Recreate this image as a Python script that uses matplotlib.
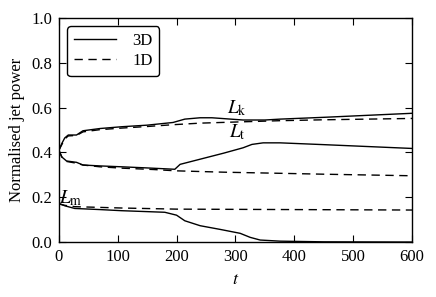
import numpy as np
import matplotlib
matplotlib.use("Agg")
import matplotlib.pyplot as plt

plt.rcParams['font.family'] = ['Liberation Serif', 'DejaVu Serif']
plt.rcParams['mathtext.fontset'] = 'stix'
plt.rcParams['font.size'] = 12

# kinetic power (L_k)
t_k3 = [0, 5, 10, 16, 30, 41, 70, 107, 150, 194, 214, 240, 260, 313, 350, 376, 450, 500, 600]
k3 = [0.41, 0.44, 0.465, 0.478, 0.478, 0.497, 0.507, 0.515, 0.522, 0.534, 0.549, 0.555, 0.555, 0.545, 0.545, 0.549, 0.557, 0.563, 0.575]
t_k1 = [0, 5, 10, 16, 30, 41, 70, 107, 150, 194, 240, 300, 376, 450, 600]
k1 = [0.41, 0.435, 0.46, 0.474, 0.476, 0.492, 0.502, 0.509, 0.516, 0.524, 0.531, 0.536, 0.542, 0.546, 0.552]

# thermal power (L_t)
t_t3 = [0, 5, 13, 30, 41, 70, 107, 150, 197, 206, 240, 280, 313, 328, 347, 376, 450, 600]
t3 = [0.41, 0.38, 0.362, 0.356, 0.344, 0.34, 0.336, 0.331, 0.325, 0.347, 0.37, 0.397, 0.421, 0.436, 0.443, 0.443, 0.435, 0.418]
t_t1 = [0, 5, 13, 30, 41, 70, 107, 160, 200, 280, 376, 450, 600]
t1 = [0.41, 0.38, 0.36, 0.352, 0.344, 0.336, 0.33, 0.324, 0.318, 0.312, 0.307, 0.303, 0.296]

# magnetic power (L_m)
t_m3 = [0, 10, 27, 70, 107, 180, 200, 214, 240, 275, 308, 325, 342, 376, 450, 600]
m3 = [0.173, 0.162, 0.15, 0.145, 0.14, 0.133, 0.12, 0.095, 0.073, 0.056, 0.039, 0.021, 0.009, 0.004, 0.001, 0.0]
t_m1 = [0, 10, 27, 107, 200, 300, 400, 500, 600]
m1 = [0.17, 0.164, 0.158, 0.152, 0.147, 0.146, 0.145, 0.144, 0.143]

fig = plt.figure(figsize=(4.36, 2.97), dpi=100)
ax = fig.add_axes([0.135, 0.185, 0.81, 0.754])

ax.plot(t_k3, k3, 'k-', lw=1.0, label='3D')
ax.plot(t_k1, k1, 'k--', lw=1.0, dashes=(6, 4), label='1D')
ax.plot(t_t3, t3, 'k-', lw=1.0)
ax.plot(t_t1, t1, 'k--', lw=1.0, dashes=(6, 4))
ax.plot(t_m3, m3, 'k-', lw=1.0)
ax.plot(t_m1, m1, 'k--', lw=1.0, dashes=(6, 4))

ax.text(303, 0.60, r'$L_{\rm k}$', fontsize=14, ha='center', va='center')
ax.text(303, 0.49, r'$L_{\rm t}$', fontsize=14, ha='center', va='center')
ax.text(20, 0.196, r'$L_{\rm m}$', fontsize=14, ha='center', va='center')

ax.set_xlim(0, 600)
ax.set_ylim(0, 1.0)
ax.set_xticks([0, 100, 200, 300, 400, 500, 600])
ax.set_yticks([0.0, 0.2, 0.4, 0.6, 0.8, 1.0])
ax.tick_params(direction='in', top=True, right=True, length=5, width=0.8, labelsize=12, pad=5)
for s in ax.spines.values():
    s.set_linewidth(1.0)

ax.set_xlabel(r'$t$', fontsize=13)
ax.set_ylabel('Normalised jet power', fontsize=12)

leg = ax.legend(loc='upper left', handlelength=2.5, fontsize=12, fancybox=True,
                framealpha=1, edgecolor='black', borderpad=0.4, handletextpad=1.0,
                borderaxespad=0.5, labelspacing=0.25)
leg.get_frame().set_linewidth(1.0)

fig.savefig('out.png', dpi=100)
